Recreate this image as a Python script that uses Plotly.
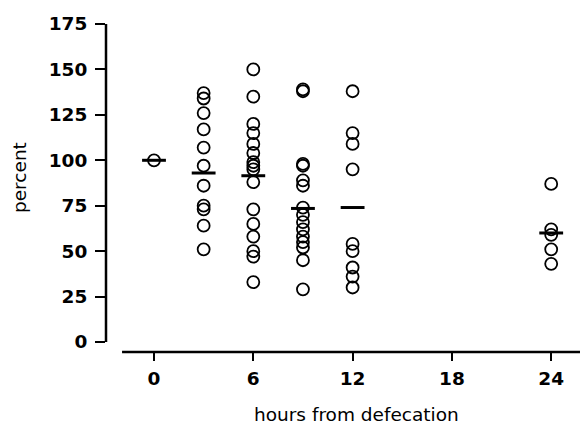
import plotly.graph_objects as go

# data
hours = [0, 3, 6, 9, 12, 24]
values = {
    0: [100],
    3: [137, 134, 126, 117, 107, 97, 86, 75, 73, 64, 51],
    6: [150, 135, 120, 115, 109, 104, 99, 97, 95, 88, 73, 65, 58, 50, 47, 33],
    9: [139, 138, 98, 97, 89, 86, 74, 70, 66, 62, 58, 55, 52, 45, 29],
    12: [138, 115, 109, 95, 54, 50, 41, 36, 30],
    24: [87, 62, 59, 51, 43],
}
means = [100, 93, 91.5, 73.5, 74, 60]
x_ticks = [0, 6, 12, 18, 24]
y_ticks = [0, 25, 50, 75, 100, 125, 150, 175]

W, H = 580, 425
L, R, T, B = 106, 0, 24, 73
X_RANGE = [-2.9, 25.74]
Y_RANGE = [-5.5, 175]
HALF = 0.72

font = "DejaVu Sans"

px, py = [], []
for h in hours:
    for v in values[h]:
        px.append(h)
        py.append(v)

mx, my = [], []
for h, m in zip(hours, means):
    mx += [h - HALF, h + HALF, None]
    my += [m, m, None]

fig = go.Figure()
fig.add_trace(go.Scatter(
    x=px, y=py, mode="markers",
    marker=dict(symbol="circle-open", size=12, color="black", line=dict(width=1.8, color="black")),
    showlegend=False, hoverinfo="x+y",
))
fig.add_trace(go.Scatter(
    x=mx, y=my, mode="lines", line=dict(color="black", width=3),
    showlegend=False, hoverinfo="skip",
))

tickfont = dict(size=18.5, family=font, color="black", weight="bold")

fig.update_layout(
    width=W, height=H,
    margin=dict(l=L, r=R, t=T, b=B),
    paper_bgcolor="white", plot_bgcolor="white",
    font=dict(family=font, color="black"),
    xaxis=dict(
        range=X_RANGE, tickvals=x_ticks, ticktext=[str(t) for t in x_ticks],
        showgrid=False, zeroline=False, showline=False,
        ticks="outside", ticklen=8, tickwidth=2, tickcolor="black",
        tickfont=tickfont, ticklabelstandoff=2,
    ),
    yaxis=dict(
        range=Y_RANGE, tickvals=y_ticks, ticktext=[str(t) for t in y_ticks],
        showgrid=False, zeroline=False, showline=False,
        ticks="outside", ticklen=10, tickwidth=2, tickcolor="black",
        tickfont=tickfont, ticklabelstandoff=4,
    ),
    shapes=[
        dict(type="line", xref="paper", yref="y", x0=0, x1=0, y0=0, y1=175,
             line=dict(color="black", width=2.5)),
        dict(type="line", xref="x", yref="paper", x0=-1.93, x1=X_RANGE[1], y0=0, y1=0,
             line=dict(color="black", width=2.5)),
    ],
    annotations=[
        dict(text="hours from defecation", xref="paper", yref="paper",
             x=(356 - L) / (W - L - R), y=(H - B - 414) / (H - T - B),
             xanchor="center", yanchor="middle", showarrow=False,
             font=dict(size=18.5, family=font, color="black")),
        dict(text="percent", xref="paper", yref="paper",
             x=(19 - L) / (W - L - R), y=(H - B - 178) / (H - T - B),
             xanchor="center", yanchor="middle", textangle=-90, showarrow=False,
             font=dict(size=18.5, family=font, color="black")),
    ],
)

fig.write_html("out.html")
